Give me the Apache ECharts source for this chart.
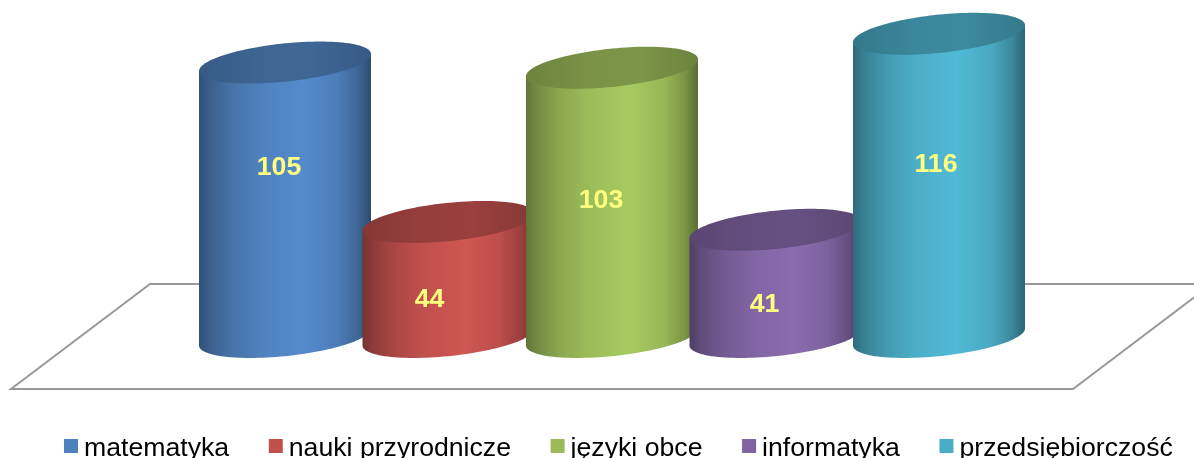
<!DOCTYPE html>
<html><head><meta charset="utf-8">
<style>html,body{margin:0;padding:0;background:#fff;overflow:hidden}#c{width:1194px;height:458px}</style>
<script src="https://cdn.jsdelivr.net/npm/echarts@6/dist/echarts.min.js"></script>
</head><body><div id="c"></div>
<script>
const categories = ['matematyka','nauki przyrodnicze','języki obce','informatyka','przedsiębiorczość'];
const values = [105,44,103,41,116];
const colors = ['#4f81bd','#c0504d','#9bbb59','#8064a2','#4bacc6'];
const labelOffsets = [[-6,105.5],[-19,78],[-11,133],[-11,75],[-3,131]];
const bodyStops = [[0,.62],[.06,.74],[.2,.9],[.35,1],[.6,1.08],[.8,.98],[.92,.8],[1,.58]];
const capStops = [[0,.7],[.35,.78],[.65,.8],[1,.7]];

function shade(hex,f){
  const n=parseInt(hex.slice(1),16);
  const c=[n>>16,(n>>8)&255,n&255].map(v=>Math.min(255,Math.round(v*f)));
  return 'rgb('+c.join(',')+')';
}
function grad(hex,stops){
  return {type:'linear',x:0,y:0,x2:1,y2:0,colorStops:stops.map(s=>({offset:s[0],color:shade(hex,s[1])}))};
}
function renderCylinder(idx){
  return function(params,api){
    const top=api.coord([api.value(0),api.value(1)]);
    const base=api.coord([api.value(0),0]);
    const a=api.size([1,0])[0]*0.526;
    const tiltA=a*0.099, tiltB=a*0.223;
    const pt=(cy,t)=>[top[0]+a*Math.cos(t),cy-tiltA*Math.cos(t)+tiltB*Math.sin(t)];
    const body=[],cap=[];
    for(let i=0;i<=60;i++) body.push(pt(base[1],Math.PI*i/60));
    body.push(pt(top[1],Math.PI)); body.push(pt(top[1],0));
    for(let i=0;i<120;i++) cap.push(pt(top[1],2*Math.PI*i/120));
    const off=labelOffsets[idx];
    return {type:'group',children:[
      {type:'polygon',shape:{points:body},style:{fill:grad(colors[idx],bodyStops)}},
      {type:'polygon',shape:{points:cap},style:{fill:grad(colors[idx],capStops)}},
      {type:'text',style:{text:String(api.value(1)),x:top[0]+off[0],y:top[1]+off[1],
        align:'center',verticalAlign:'middle',fill:'#ffff80',
        font:'bold 26.67px "Liberation Sans", Arial, sans-serif'}}
    ]};
  };
}
const chart=echarts.init(document.getElementById('c'),null,{renderer:'canvas'});
chart.setOption({
  animation:false,
  backgroundColor:'#ffffff',
  grid:{left:203.25,width:817.5,top:23.3,height:313.7},
  xAxis:{type:'category',data:categories,show:false},
  yAxis:{type:'value',min:0,max:120,interval:20,show:false},
  legend:{left:59,top:430.5,itemWidth:14,itemHeight:20,itemGap:39.6,
    icon:'path://M0 0H14V14H0Z M0 20H14',
    data:categories,
    textStyle:{fontFamily:'"Liberation Sans", Arial, sans-serif',fontSize:26.67,color:'#000',padding:[0,0,0,1]}},
  graphic:[{type:'polygon',silent:true,z:0,
    shape:{points:[[150,284],[1212,284],[1073,389],[11,389]]},
    style:{fill:'none',stroke:'#999999',lineWidth:2}}],
  series:categories.map((name,i)=>({
    name,type:'custom',coordinateSystem:'cartesian2d',clip:false,silent:true,
    itemStyle:{color:colors[i]},z:2+i,
    encode:{x:0,y:1},
    renderItem:renderCylinder(i),
    data:[[i,values[i]]]
  }))
});
</script></body></html>
